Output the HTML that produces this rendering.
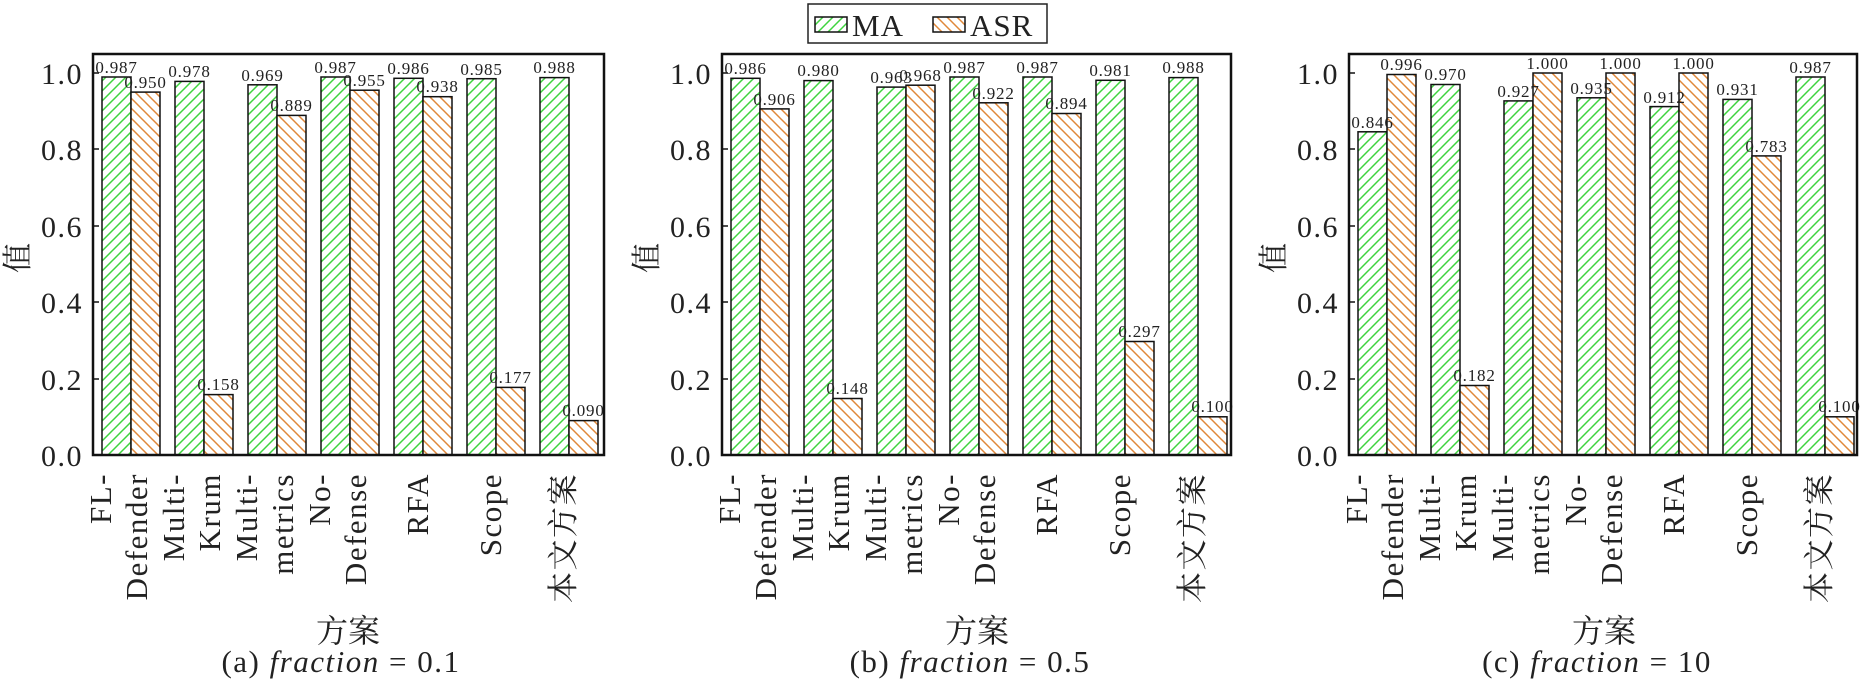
<!DOCTYPE html>
<html><head><meta charset="utf-8"><style>
html,body{margin:0;padding:0;background:#fff;}
svg{display:block;}
text{font-family:"Liberation Serif","Noto Serif CJK SC","Noto Sans CJK SC",serif;fill:#222;}
.v{font-size:17px;text-anchor:middle;letter-spacing:0.8px;}
.yt{font-size:30px;text-anchor:end;letter-spacing:1.5px;}
.xt{font-size:31px;text-anchor:end;letter-spacing:1.5px;}
.cj{font-size:30px;text-anchor:middle;}
.cap{font-size:31px;text-anchor:middle;letter-spacing:1.5px;}
.ma{fill:url(#hg);stroke:#111;stroke-width:1.5;}
.asr{fill:url(#ho);stroke:#111;stroke-width:1.5;}
</style></head><body>
<svg width="1871" height="684" viewBox="0 0 1871 684" xmlns="http://www.w3.org/2000/svg">
<defs>
<pattern id="hg" patternUnits="userSpaceOnUse" width="10" height="10"><rect width="10" height="10" fill="#fff"/><path d="M-1,11 L11,-1 M-6,6 L6,-6 M4,16 L16,4" stroke="#3ed43e" stroke-width="1.5"/></pattern>
<pattern id="ho" patternUnits="userSpaceOnUse" width="10" height="10"><rect width="10" height="10" fill="#fff"/><path d="M-1,-1 L11,11 M-6,4 L6,16 M4,-6 L16,6" stroke="#e0883a" stroke-width="1.5"/></pattern>
</defs>

<!-- Legend -->
<rect x="808" y="4" width="239" height="39" fill="#fff" stroke="#222" stroke-width="1.5"/>
<rect x="815" y="17" width="32" height="15" class="ma"/>
<text x="852" y="36" style="font-size:31px;letter-spacing:1px">MA</text>
<rect x="933" y="17" width="32" height="15" class="asr"/>
<text x="970" y="36" style="font-size:31px;letter-spacing:1px">ASR</text>

<!-- Panel A -->
<g transform="translate(93,0)">
<g class="yt"><text x="-10" y="466">0.0</text><text x="-10" y="390">0.2</text><text x="-10" y="313">0.4</text><text x="-10" y="237">0.6</text><text x="-10" y="160">0.8</text><text x="-10" y="84">1.0</text></g>
<path d="M0,379H6M0,302H6M0,226H6M0,149H6M0,73H6" stroke="#111" stroke-width="1.5"/>
<text class="cj" transform="translate(-75,258) rotate(-90)" y="10">值</text>
<rect x="9" y="77" width="29" height="378" class="ma"/><rect x="38" y="92.1" width="29" height="362.9" class="asr"/>
<rect x="82" y="81.4" width="29" height="373.6" class="ma"/><rect x="111" y="394.6" width="29" height="60.4" class="asr"/>
<rect x="155" y="84.8" width="29" height="370.2" class="ma"/><rect x="184" y="115.4" width="29" height="339.6" class="asr"/>
<rect x="228" y="77" width="29" height="378" class="ma"/><rect x="257" y="90.2" width="29" height="364.8" class="asr"/>
<rect x="301" y="78.3" width="29" height="376.7" class="ma"/><rect x="330" y="96.7" width="29" height="358.3" class="asr"/>
<rect x="374" y="78.7" width="29" height="376.3" class="ma"/><rect x="403" y="387.4" width="29" height="67.6" class="asr"/>
<rect x="447" y="77.6" width="29" height="377.4" class="ma"/><rect x="476" y="420.6" width="29" height="34.4" class="asr"/>
<g class="v">
<text x="23.5" y="73">0.987</text><text x="52.5" y="88">0.950</text>
<text x="96.5" y="77">0.978</text><text x="125.5" y="390">0.158</text>
<text x="169.5" y="81">0.969</text><text x="198.5" y="111">0.889</text>
<text x="242.5" y="73">0.987</text><text x="271.5" y="86">0.955</text>
<text x="315.5" y="74">0.986</text><text x="344.5" y="92">0.938</text>
<text x="388.5" y="75">0.985</text><text x="417.5" y="383">0.177</text>
<text x="461.5" y="73">0.988</text><text x="490.5" y="416">0.090</text>
</g>
<rect x="0" y="54" width="511" height="401" fill="none" stroke="#111" stroke-width="2.5"/>
<g class="xt">
<text transform="translate(18,473) rotate(-90)">FL-</text><text transform="translate(54,473) rotate(-90)">Defender</text>
<text transform="translate(91,473) rotate(-90)">Multi-</text><text transform="translate(127,473) rotate(-90)">Krum</text>
<text transform="translate(164,473) rotate(-90)">Multi-</text><text transform="translate(200,473) rotate(-90)">metrics</text>
<text transform="translate(237,473) rotate(-90)">No-</text><text transform="translate(273,473) rotate(-90)">Defense</text>
<text transform="translate(335,473) rotate(-90)">RFA</text>
<text transform="translate(408,473) rotate(-90)">Scope</text>
<text transform="translate(481,473) rotate(-90)">本文方案</text>
</g>
<text class="cj" x="255" y="642" style="font-size:32px">方案</text>
<text class="cap" x="248" y="672">(a) <tspan font-style="italic">fraction</tspan> = 0.1</text>
</g>

<!-- Panel B -->
<g transform="translate(722,0)">
<g class="yt"><text x="-10" y="466">0.0</text><text x="-10" y="390">0.2</text><text x="-10" y="313">0.4</text><text x="-10" y="237">0.6</text><text x="-10" y="160">0.8</text><text x="-10" y="84">1.0</text></g>
<path d="M0,379H6M0,302H6M0,226H6M0,149H6M0,73H6" stroke="#111" stroke-width="1.5"/>
<text class="cj" transform="translate(-75,258) rotate(-90)" y="10">值</text>
<rect x="9" y="78.3" width="29" height="376.7" class="ma"/><rect x="38" y="108.9" width="29" height="346.1" class="asr"/>
<rect x="82" y="80.6" width="29" height="374.4" class="ma"/><rect x="111" y="398.5" width="29" height="56.5" class="asr"/>
<rect x="155" y="87.1" width="29" height="367.9" class="ma"/><rect x="184" y="85.2" width="29" height="369.8" class="asr"/>
<rect x="228" y="77" width="29" height="378" class="ma"/><rect x="257" y="102.8" width="29" height="352.2" class="asr"/>
<rect x="301" y="77" width="29" height="378" class="ma"/><rect x="330" y="113.5" width="29" height="341.5" class="asr"/>
<rect x="374" y="80.3" width="29" height="374.7" class="ma"/><rect x="403" y="341.5" width="29" height="113.5" class="asr"/>
<rect x="447" y="77.6" width="29" height="377.4" class="ma"/><rect x="476" y="416.8" width="29" height="38.2" class="asr"/>
<g class="v">
<text x="23.5" y="74">0.986</text><text x="52.5" y="105">0.906</text>
<text x="96.5" y="76">0.980</text><text x="125.5" y="394">0.148</text>
<text x="169.5" y="83">0.963</text><text x="198.5" y="81">0.968</text>
<text x="242.5" y="73">0.987</text><text x="271.5" y="99">0.922</text>
<text x="315.5" y="73">0.987</text><text x="344.5" y="109">0.894</text>
<text x="388.5" y="76">0.981</text><text x="417.5" y="337">0.297</text>
<text x="461.5" y="73">0.988</text><text x="490.5" y="412">0.100</text>
</g>
<rect x="0" y="54" width="509" height="401" fill="none" stroke="#111" stroke-width="2.5"/>
<g class="xt">
<text transform="translate(18,473) rotate(-90)">FL-</text><text transform="translate(54,473) rotate(-90)">Defender</text>
<text transform="translate(91,473) rotate(-90)">Multi-</text><text transform="translate(127,473) rotate(-90)">Krum</text>
<text transform="translate(164,473) rotate(-90)">Multi-</text><text transform="translate(200,473) rotate(-90)">metrics</text>
<text transform="translate(237,473) rotate(-90)">No-</text><text transform="translate(273,473) rotate(-90)">Defense</text>
<text transform="translate(335,473) rotate(-90)">RFA</text>
<text transform="translate(408,473) rotate(-90)">Scope</text>
<text transform="translate(481,473) rotate(-90)">本文方案</text>
</g>
<text class="cj" x="255" y="642" style="font-size:32px">方案</text>
<text class="cap" x="248" y="672">(b) <tspan font-style="italic">fraction</tspan> = 0.5</text>
</g>

<!-- Panel C -->
<g transform="translate(1349,0)">
<g class="yt"><text x="-10" y="466">0.0</text><text x="-10" y="390">0.2</text><text x="-10" y="313">0.4</text><text x="-10" y="237">0.6</text><text x="-10" y="160">0.8</text><text x="-10" y="84">1.0</text></g>
<path d="M0,379H6M0,302H6M0,226H6M0,149H6M0,73H6" stroke="#111" stroke-width="1.5"/>
<text class="cj" transform="translate(-75,258) rotate(-90)" y="10">值</text>
<rect x="9" y="131.8" width="29" height="323.2" class="ma"/><rect x="38" y="74.5" width="29" height="380.5" class="asr"/>
<rect x="82" y="84.5" width="29" height="370.5" class="ma"/><rect x="111" y="385.5" width="29" height="69.5" class="asr"/>
<rect x="155" y="100.9" width="29" height="354.1" class="ma"/><rect x="184" y="73" width="29" height="382" class="asr"/>
<rect x="228" y="97.8" width="29" height="357.2" class="ma"/><rect x="257" y="73" width="29" height="382" class="asr"/>
<rect x="301" y="106.6" width="29" height="348.4" class="ma"/><rect x="330" y="73" width="29" height="382" class="asr"/>
<rect x="374" y="99.4" width="29" height="355.6" class="ma"/><rect x="403" y="155.9" width="29" height="299.1" class="asr"/>
<rect x="447" y="77" width="29" height="378" class="ma"/><rect x="476" y="416.8" width="29" height="38.2" class="asr"/>
<g class="v">
<text x="23.5" y="128">0.846</text><text x="52.5" y="70">0.996</text>
<text x="96.5" y="80">0.970</text><text x="125.5" y="381">0.182</text>
<text x="169.5" y="97">0.927</text><text x="198.5" y="69">1.000</text>
<text x="242.5" y="94">0.935</text><text x="271.5" y="69">1.000</text>
<text x="315.5" y="103">0.912</text><text x="344.5" y="69">1.000</text>
<text x="388.5" y="95">0.931</text><text x="417.5" y="152">0.783</text>
<text x="461.5" y="73">0.987</text><text x="490.5" y="412">0.100</text>
</g>
<rect x="0" y="54" width="508" height="401" fill="none" stroke="#111" stroke-width="2.5"/>
<g class="xt">
<text transform="translate(18,473) rotate(-90)">FL-</text><text transform="translate(54,473) rotate(-90)">Defender</text>
<text transform="translate(91,473) rotate(-90)">Multi-</text><text transform="translate(127,473) rotate(-90)">Krum</text>
<text transform="translate(164,473) rotate(-90)">Multi-</text><text transform="translate(200,473) rotate(-90)">metrics</text>
<text transform="translate(237,473) rotate(-90)">No-</text><text transform="translate(273,473) rotate(-90)">Defense</text>
<text transform="translate(335,473) rotate(-90)">RFA</text>
<text transform="translate(408,473) rotate(-90)">Scope</text>
<text transform="translate(481,473) rotate(-90)">本文方案</text>
</g>
<text class="cj" x="255" y="642" style="font-size:32px">方案</text>
<text class="cap" x="248" y="672">(c) <tspan font-style="italic">fraction</tspan> = 10</text>
</g>
</svg>
</body></html>
